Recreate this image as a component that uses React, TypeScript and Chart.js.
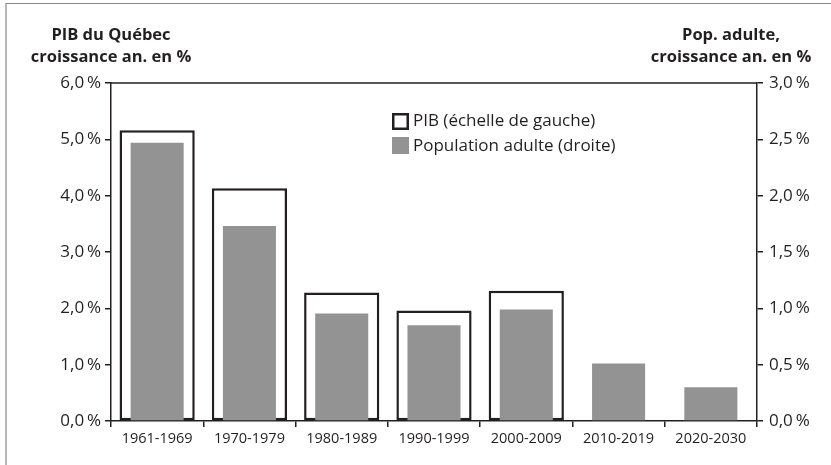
import React, { useEffect, useRef } from "react";
import { Chart, registerables } from "chart.js";

Chart.register(...registerables);

const categories = ["1961-1969", "1970-1979", "1980-1989", "1990-1999", "2000-2009", "2010-2019", "2020-2030"];
const pibValues = [5.16, 4.13, 2.28, 1.96, 2.31, null, null];
const popValues = [2.47, 1.73, 0.955, 0.85, 0.99, 0.51, 0.3];
const leftTicksMax = 6;
const rightTicksMax = 3;
const leftTitle = ["PIB du Québec", "croissance an. en %"];
const rightTitle = ["Pop. adulte,", "croissance an. en %"];
const legendLabels = ["PIB (échelle de gauche)", "Population adulte (droite)"];

const FONT = "'Open Sans', 'DejaVu Sans', sans-serif";
const DARK = "#231f20";
const GRAY = "#939393";

const fmt = (v: number) => v.toFixed(1).replace(".", ",") + "\u2009%";

const decorPlugin = {
  id: "decor",
  afterDraw(chart: any) {
    const ctx = chart.ctx;
    const { left, right, top } = chart.chartArea;
    ctx.save();
    // outer frame (top + left)
    ctx.strokeStyle = "#8a8a8a";
    ctx.lineWidth = 1.2;
    ctx.beginPath();
    ctx.moveTo(6, 465);
    ctx.lineTo(6, 3.5);
    ctx.lineTo(831, 3.5);
    ctx.stroke();
    // top line of plot
    ctx.strokeStyle = DARK;
    ctx.lineWidth = 1.5;
    ctx.beginPath();
    ctx.moveTo(left, top);
    ctx.lineTo(right, top);
    ctx.stroke();
    // titles
    ctx.fillStyle = DARK;
    ctx.font = `bold 16.5px ${FONT}`;
    ctx.textAlign = "center";
    ctx.textBaseline = "middle";
    ctx.fillText(leftTitle[0], left, 35);
    ctx.fillText(leftTitle[1], left, 57);
    ctx.fillText(rightTitle[0], right - 26, 35);
    ctx.fillText(rightTitle[1], right - 26, 57);
    // legend
    const lx = 392;
    const ly = [121, 145];
    ctx.fillStyle = "#fff";
    ctx.fillRect(lx, ly[0] - 8, 16, 16);
    ctx.strokeStyle = DARK;
    ctx.lineWidth = 2.5;
    ctx.strokeRect(lx + 1.25, ly[0] - 8 + 1.25, 14.5, 14.5);
    ctx.fillStyle = GRAY;
    ctx.fillRect(lx, ly[1] - 8, 17, 17);
    ctx.fillStyle = DARK;
    ctx.font = `17px ${FONT}`;
    ctx.textAlign = "left";
    ctx.fillText(legendLabels[0], lx + 21, ly[0]);
    ctx.fillText(legendLabels[1], lx + 21, ly[1] + 1);
    ctx.restore();
  },
};

export default function App() {
  const ref = useRef<HTMLCanvasElement>(null);
  useEffect(() => {
    if (!ref.current) return;
    const chart = new Chart(ref.current, {
      type: "bar",
      data: {
        labels: categories,
        datasets: [
          {
            label: legendLabels[0],
            data: pibValues as any,
            backgroundColor: "#ffffff",
            borderColor: DARK,
            borderWidth: 2.5,
            borderSkipped: false,
            barPercentage: 0.815,
            categoryPercentage: 1,
            grouped: false,
            yAxisID: "y",
            order: 2,
          } as any,
          {
            label: legendLabels[1],
            data: popValues,
            backgroundColor: GRAY,
            borderWidth: 0,
            barPercentage: 0.575,
            categoryPercentage: 1,
            grouped: false,
            yAxisID: "y1",
            order: 1,
          } as any,
        ],
      },
      options: {
        responsive: false,
        animation: false,
        devicePixelRatio: 1,
        layout: { padding: { top: 83, left: 0, right: 0, bottom: 0 } },
        plugins: { legend: { display: false }, tooltip: { enabled: false } },
        scales: {
          x: {
            type: "category",
            offset: true,
            grid: {
              offset: true,
              drawOnChartArea: false,
              tickLength: 6,
              color: DARK,
              lineWidth: 1.5,
            },
            border: { display: true, color: DARK, width: 1.5 },
            ticks: { color: DARK, font: { family: FONT, size: 14.5 }, padding: 3, maxRotation: 0, autoSkip: false },
            afterFit: (s: any) => {
              s.height = 44;
            },
          },
          y: {
            position: "left",
            min: 0,
            max: leftTicksMax,
            ticks: { stepSize: 1, color: DARK, font: { family: FONT, size: 17 }, padding: 4, callback: (v: any) => fmt(Number(v)) },
            grid: { drawOnChartArea: false, tickLength: 6, color: DARK, lineWidth: 1.5 },
            border: { display: true, color: DARK, width: 1.5 },
            afterFit: (s: any) => {
              s.width = 111;
            },
          },
          y1: {
            position: "right",
            min: 0,
            max: rightTicksMax,
            ticks: { stepSize: 0.5, color: DARK, font: { family: FONT, size: 17 }, padding: 6, callback: (v: any) => fmt(Number(v)) },
            grid: { drawOnChartArea: false, tickLength: 6, color: DARK, lineWidth: 1.5 },
            border: { display: true, color: DARK, width: 1.5 },
            afterFit: (s: any) => {
              s.width = 74;
            },
          },
        },
      } as any,
      plugins: [decorPlugin],
    });
    return () => chart.destroy();
  }, []);
  return (
    <div style={{ position: "fixed", left: 0, top: 0, width: 831, height: 465, background: "#fff" }}>
      <canvas ref={ref} width={831} height={465} style={{ display: "block", width: 831, height: 465 }} />
    </div>
  );
}
